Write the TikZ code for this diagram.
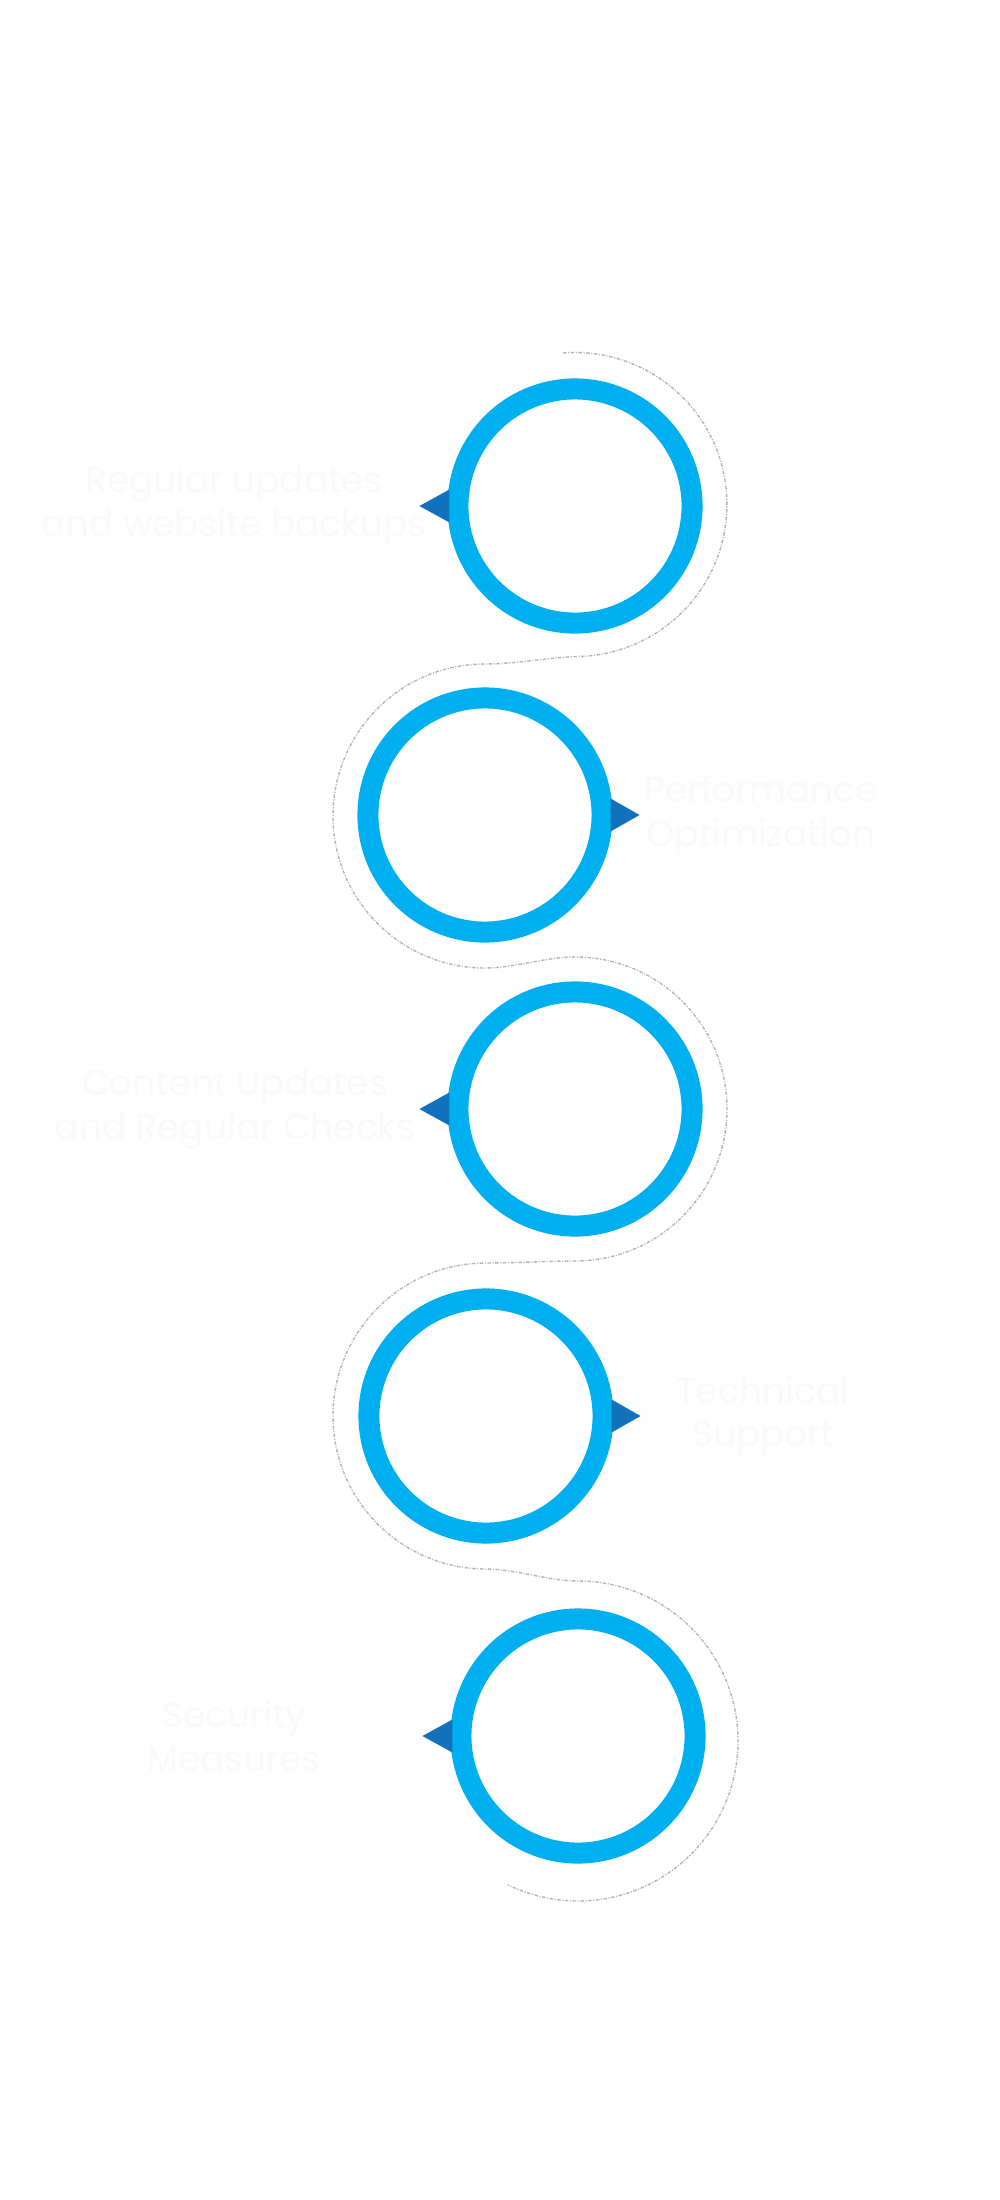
\documentclass[tikz,border=0pt]{standalone}
\usepackage{fontspec}
\setmainfont{Poppins}
\usetikzlibrary{calc}
\definecolor{ringblue}{HTML}{00AFEF}
\definecolor{tipblue}{HTML}{1171BA}
\definecolor{txtwhite}{HTML}{FAFAFA}
\definecolor{trailgray}{HTML}{B5B5B5}
\begin{document}
\begin{tikzpicture}[x=0.01cm,y=0.01cm,
  stepring/.style={circle, draw=ringblue, fill=white, line width=0.21cm, minimum size=2.34cm, inner sep=0pt},
  pointer/.style={fill=tipblue},
  steptext/.style={text=txtwhite, align=center, inner sep=0pt, font=\fontsize{10.2}{12.5}\selectfont},
  trailline/.style={draw=trailgray, line width=0.4pt, dash pattern=on 1pt off 0.45pt on 0.3pt off 0.45pt}]

\fill[white] (0,0) rectangle (1000,-2200);
\useasboundingbox (0,0) rectangle (1000,-2200);

% dashed trail
\coordinate (trailstart) at (563,-353);
\draw[trailline] (trailstart)
  arc[start angle=94.5, end angle=-90, radius=152]
  .. controls (545,-658) and (515,-664) .. (485,-664)
  arc[start angle=90, end angle=270, radius=152]
  .. controls (515,-968) and (545,-957) .. (575,-957)
  arc[start angle=90, end angle=-90, radius=152]
  .. controls (545,-1261) and (516,-1263) .. (486,-1263)
  arc[start angle=90, end angle=270, radius=153]
  .. controls (516,-1569) and (548,-1581) .. (578,-1581)
  arc[start angle=90, end angle=-116, radius=160] coordinate (trailend);

% step circles
\node[stepring] (c1) at (575,-506) {};
\node[stepring] (c2) at (485,-815) {};
\node[stepring] (c3) at (575,-1109) {};
\node[stepring] (c4) at (486,-1416) {};
\node[stepring] (c5) at (578,-1736) {};

% pointers
\fill[pointer] ($(c1.west)+(2,16.5)$) -- ($(c1.west)+(-28,0)$) -- ($(c1.west)+(2,-16.5)$) -- cycle;
\fill[pointer] ($(c2.east)+(-2,16.5)$) -- ($(c2.east)+(27,0)$) -- ($(c2.east)+(-2,-16.5)$) -- cycle;
\fill[pointer] ($(c3.west)+(2,16.5)$) -- ($(c3.west)+(-28,0)$) -- ($(c3.west)+(2,-16.5)$) -- cycle;
\fill[pointer] ($(c4.east)+(-2,16.5)$) -- ($(c4.east)+(27,0)$) -- ($(c4.east)+(-2,-16.5)$) -- cycle;
\fill[pointer] ($(c5.west)+(2,16.5)$) -- ($(c5.west)+(-28,0)$) -- ($(c5.west)+(2,-16.5)$) -- cycle;

% labels
\node[steptext] (t1) at (234,-506) {Regular updates\\and website backups};
\node[steptext] (t2) at (761,-815) {Performance\\Optimization};
\node[steptext] (t3) at (235,-1109) {Content Updates\\and Regular Checks};
\node[steptext] (t4) at (763,-1416) {Technical\\Support};
\node[steptext] (t5) at (234,-1736) {Security\\Measures};
\end{tikzpicture}
\end{document}
